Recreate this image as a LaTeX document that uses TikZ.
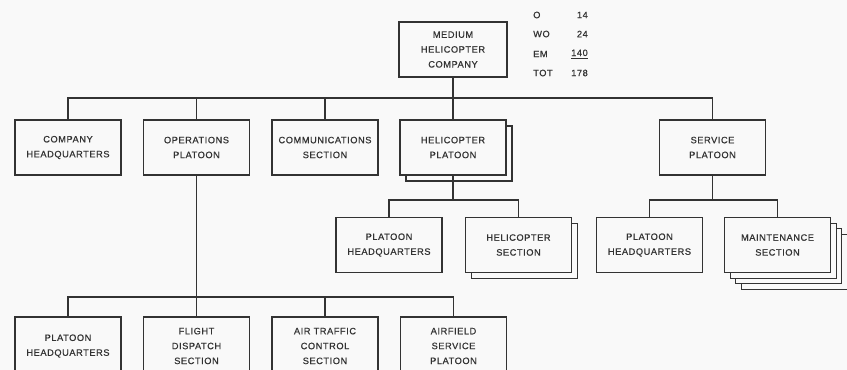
\documentclass[tikz,border=0pt]{standalone}
\usepackage{fontspec}
\setmainfont{Liberation Sans}
\newfontfamily\orgfont[LetterSpace=6, FakeBold=0.6]{Liberation Sans}
\usetikzlibrary{shadows}
\definecolor{ink}{gray}{0.2}
\definecolor{paper}{gray}{0.975}

\begin{document}
\begin{tikzpicture}[x=0.03cm, y=-0.03cm,
    unit/.style={draw=ink, line width=1pt, fill=paper, align=center,
        minimum width=3.18cm, minimum height=1.65cm, inner sep=0pt,
        font=\orgfont\fontsize{7.9}{12.7}\selectfont, text=ink},
    lowunit/.style={unit, minimum height=1.74cm},
    stack/.style={general shadow={shadow xshift=#1, shadow yshift=-#1,
        draw=ink, fill=paper, line width=1pt}},
    link/.style={draw=ink, line width=1pt},
    count/.style={font=\orgfont\fontsize{7.9}{9}\selectfont, text=ink, inner sep=0pt}]

    % Sheet
    \path[use as bounding box, fill=paper] (0,0) rectangle (847,370);
    \clip (0,0) rectangle (847,370);

    % Company and its strength
    \node[unit, minimum width=3.24cm] (co) at (453,49.5) {MEDIUM\\HELICOPTER\\COMPANY};
    \node[count, anchor=west] (ro) at (533,15) {O};
    \node[count, anchor=west] (rwo) at (533,34) {WO};
    \node[count, anchor=west] (rem) at (533,54) {EM};
    \node[count, anchor=west] (rtot) at (533,73) {TOT};
    \node[count, anchor=east] (no) at (588,15) {14};
    \node[count, anchor=east] (nwo) at (588,34) {24};
    \node[count, anchor=east] (nem) at (588,54) {\underline{140}};
    \node[count, anchor=east] (ntot) at (588,73) {178};

    % First level
    \node[unit] (chq) at (68,147.5) {COMPANY\\HEADQUARTERS};
    \node[unit] (ops) at (196.5,147.5) {OPERATIONS\\PLATOON};
    \node[unit] (comm) at (325,147.5) {COMMUNICATIONS\\SECTION};
    \node[unit, stack=0.18cm] (hpl) at (453,147.5) {HELICOPTER\\PLATOON};
    \node[unit] (svc) at (712.5,147.5) {SERVICE\\PLATOON};

    % Helicopter and service platoons
    \node[unit] (hphq) at (389,245) {PLATOON\\HEADQUARTERS};
    \node[unit, stack=0.18cm] (hsec) at (518.5,245) {HELICOPTER\\SECTION};
    \node[unit] (sphq) at (649.5,245) {PLATOON\\HEADQUARTERS};
    \node[unit, stack=0.51cm, stack=0.34cm, stack=0.17cm] (mnt) at (777.5,245) {MAINTENANCE\\SECTION};

    % Operations platoon
    \node[lowunit] (ophq) at (68,346) {PLATOON\\HEADQUARTERS};
    \node[lowunit] (fds) at (196.5,346) {FLIGHT\\DISPATCH\\SECTION};
    \node[lowunit] (atc) at (325,346) {AIR TRAFFIC\\CONTROL\\SECTION};
    \node[lowunit] (afs) at (453.5,346) {AIRFIELD\\SERVICE\\PLATOON};

    % Buses
    \coordinate (cobus) at (453,98);
    \coordinate (opsbus) at (196.5,297);
    \coordinate (hplbus) at (453,200);
    \coordinate (svcbus) at (712.5,200);

    % Connectors
    \foreach \n in {chq, ops, comm, hpl, svc}
        \draw[link] (co.south) -- (cobus) -| (\n.north);
    \foreach \n in {hphq, hsec}
        \draw[link] (hpl.south) -- (hplbus) -| (\n.north);
    \foreach \n in {sphq, mnt}
        \draw[link] (svc.south) -- (svcbus) -| (\n.north);
    \foreach \n in {ophq, fds, atc, afs}
        \draw[link] (ops.south) -- (opsbus) -| (\n.north);
\end{tikzpicture}
\end{document}
